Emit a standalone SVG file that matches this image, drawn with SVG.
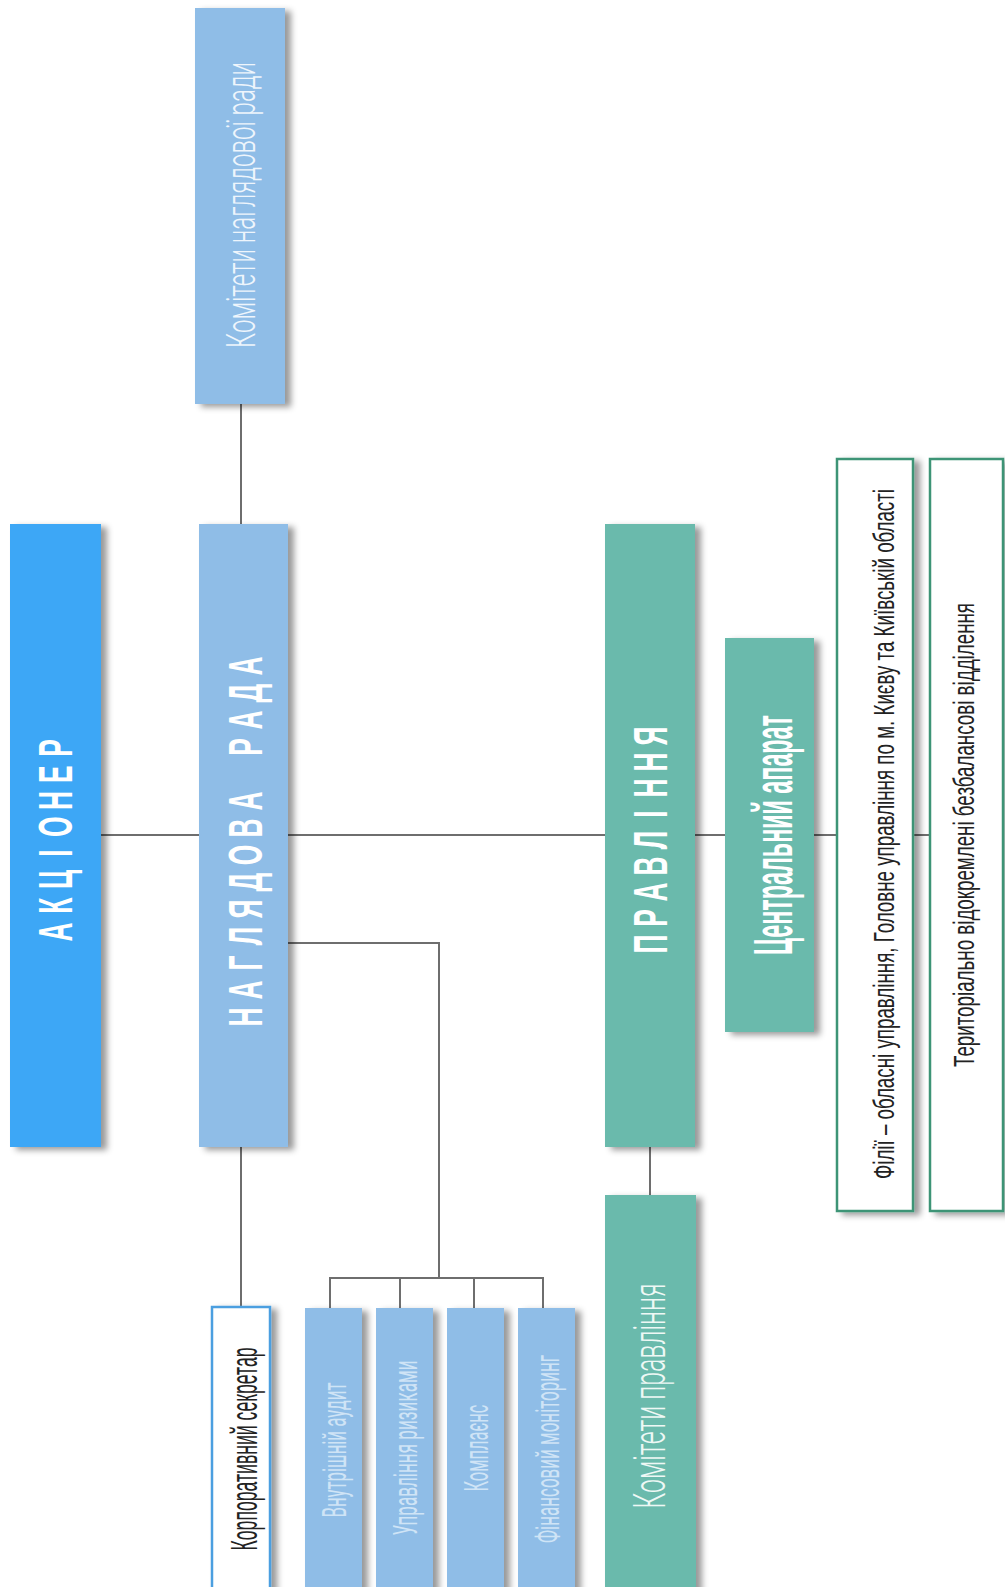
<svg xmlns="http://www.w3.org/2000/svg" width="1005" height="1587" viewBox="0 0 1005 1587">
<defs>
<filter id="sh" x="-20%" y="-5%" width="160%" height="115%">
<feGaussianBlur in="SourceAlpha" stdDeviation="3"/>
<feOffset dx="6" dy="3" result="b"/>
<feFlood flood-color="#000" flood-opacity="0.4"/>
<feComposite in2="b" operator="in"/>
<feMerge><feMergeNode/><feMergeNode in="SourceGraphic"/></feMerge>
</filter>
</defs>
<style>
.blue{fill:#3ea7f6}
.lb{fill:#8fbde7}
.teal{fill:#6bbaac}
.wb{fill:#fff;stroke:#4b9fe0;stroke-width:2.5}
.wg{fill:#fff;stroke:#3c9476;stroke-width:2.5}
.con{stroke:#6e6e6e;stroke-width:2;fill:none}
.bold{font-family:"Liberation Sans","Roboto",sans-serif;font-weight:700;fill:#fff;font-size:48px}
.cb{font-family:"Liberation Sans","Roboto",sans-serif;font-weight:700;fill:#fff;font-size:56px}
.lt{font-family:"Roboto","Liberation Sans",sans-serif;font-weight:300;text-anchor:middle}
.sb{font-family:"Roboto","Liberation Sans",sans-serif;font-weight:400;text-anchor:middle;fill:#cfe4f6}
.dk{font-family:"Liberation Sans","Roboto",sans-serif;font-weight:400;fill:#222;text-anchor:middle}
</style>
<g id="connectors">
<path class="con" d="M241 404V524"/>
<path class="con" d="M101 835H199"/>
<path class="con" d="M288 835H605"/>
<path class="con" d="M695 835H725"/>
<path class="con" d="M814 835H837"/>
<path class="con" d="M913 835H930"/>
<path class="con" d="M288 943H439V1278"/>
<path class="con" d="M330 1308V1278H543V1308M400 1278V1308M474 1278V1308"/>
<path class="con" d="M241 1147V1307"/>
<path class="con" d="M650 1147V1195"/>
</g>
<g id="komitety-nr">
<rect class="lb" x="195" y="8" width="90" height="396" filter="url(#sh)"/>
<text class="lt" font-size="40" fill="#eef5fc" transform="translate(255,205) rotate(-90) scale(0.6,1)" textLength="476.7" lengthAdjust="spacingAndGlyphs">Комітети наглядової ради</text>
</g>
<g id="aktsioner">
<rect class="blue" x="10" y="524" width="91" height="623" filter="url(#sh)"/>
<text class="bold" text-anchor="middle" transform="translate(72,840) rotate(-90) scale(0.55,1)" x="-167.3 -119.5 -71.7 -23.9 23.9 71.7 119.5 167.3">АКЦІОНЕР</text>
</g>
<g id="nahliadova-rada">
<rect class="lb" x="199" y="524" width="89" height="623" filter="url(#sh)"/>
<text class="bold" text-anchor="middle" transform="translate(262,841.5) rotate(-90) scale(0.55,1)" x="-319.1 -270 -220.9 -171.8 -122.7 -73.6 -24.5 24.5 73.6 122.7 171.8 220.9 270 319.1">НАГЛЯДОВА РАДА</text>
</g>
<g id="pravlinnia">
<rect class="teal" x="605" y="524" width="90" height="623" filter="url(#sh)"/>
<text class="bold" text-anchor="middle" transform="translate(667,840) rotate(-90) scale(0.55,1)" x="-189.1 -141.8 -94.5 -47.3 0 47.3 94.5 141.8 189.1">ПРАВЛІННЯ</text>
</g>
<g id="tsentralnyi-aparat">
<rect class="teal" x="725" y="638" width="89" height="394" filter="url(#sh)"/>
<text class="cb" text-anchor="middle" transform="translate(792,835) rotate(-90)" textLength="240" lengthAdjust="spacingAndGlyphs">Центральний апарат</text>
</g>
<g id="komitety-pravlinnia">
<rect class="teal" x="605" y="1195" width="91" height="400" filter="url(#sh)"/>
<text class="lt" font-size="44" fill="#eef8f5" transform="translate(665,1396) rotate(-90)" textLength="225" lengthAdjust="spacingAndGlyphs">Комітети правління</text>
</g>
<g id="korp-sekretar">
<rect class="wb" x="212" y="1307" width="58" height="290" filter="url(#sh)"/>
<text class="dk" font-size="37" transform="translate(257,1449) rotate(-90)" textLength="203" lengthAdjust="spacingAndGlyphs">Корпоративний секретар</text>
</g>
<g id="vnutr-audyt">
<rect class="lb" x="305" y="1308" width="57" height="290" filter="url(#sh)"/>
<text class="sb" font-size="34" transform="translate(345.5,1450) rotate(-90)" textLength="135" lengthAdjust="spacingAndGlyphs">Внутрішній аудит</text>
</g>
<g id="upr-ryzykamy">
<rect class="lb" x="376" y="1308" width="57" height="290" filter="url(#sh)"/>
<text class="sb" font-size="34" transform="translate(416.5,1448) rotate(-90)" textLength="175" lengthAdjust="spacingAndGlyphs">Управління ризиками</text>
</g>
<g id="komplaiens">
<rect class="lb" x="447" y="1308" width="57" height="290" filter="url(#sh)"/>
<text class="sb" font-size="34" transform="translate(487.5,1448) rotate(-90)" textLength="87" lengthAdjust="spacingAndGlyphs">Комплаєнс</text>
</g>
<g id="fin-monitoryng">
<rect class="lb" x="518" y="1308" width="57" height="290" filter="url(#sh)"/>
<text class="sb" font-size="34" transform="translate(558.5,1449) rotate(-90)" textLength="188" lengthAdjust="spacingAndGlyphs">Фінансовий моніторинг</text>
</g>
<g id="filii">
<rect class="wg" x="837" y="459" width="76" height="752" filter="url(#sh)"/>
<text class="dk" font-size="30" transform="translate(894,834) rotate(-90)" textLength="690" lengthAdjust="spacingAndGlyphs">Філії – обласні управління, Головне управління по м. Києву та Київській області</text>
</g>
<g id="terytorialni">
<rect class="wg" x="930" y="459" width="73" height="752" filter="url(#sh)"/>
<text class="dk" font-size="30" transform="translate(974,835) rotate(-90)" textLength="464" lengthAdjust="spacingAndGlyphs">Територіально відокремлені безбалансові відділення</text>
</g>
</svg>
